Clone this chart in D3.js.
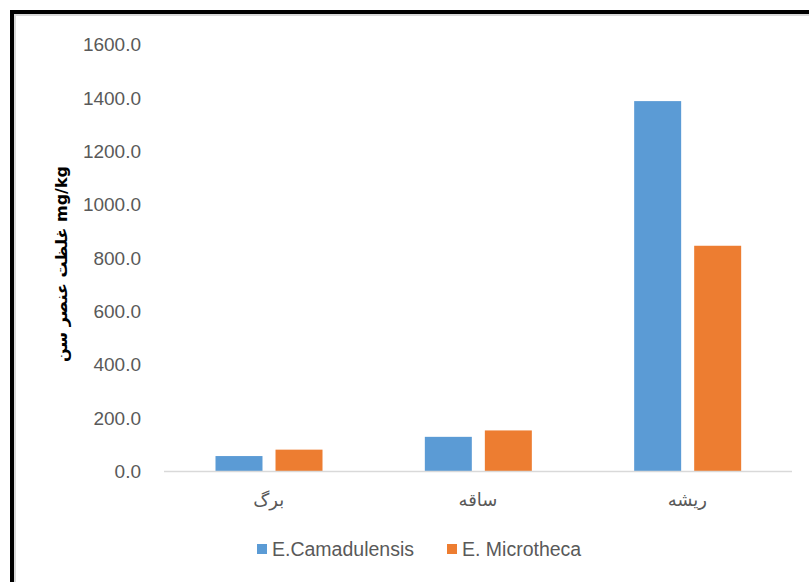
<!DOCTYPE html>
<html><head><meta charset="utf-8">
<script src="https://cdn.jsdelivr.net/npm/d3@7"></script>
<style>body{margin:0;background:#fff}svg{display:block}</style>
</head><body><svg id="c" width="809" height="582"></svg>
<script>
const categories = ["برگ", "ساقه", "ریشه"];
const seriesNames = ["E.Camadulensis", "E. Microtheca"];
const camadulensis = [56, 128, 1386];
const microtheca = [80, 152, 844];
const yTicks = [0, 200, 400, 600, 800, 1000, 1200, 1400, 1600];
const yTitle = "غلظت عنصر سن mg/kg";
const colors = ["#5B9BD5", "#ED7D31"];

const svg = d3.select("#c");
const font = "'Liberation Sans', Arial, 'DejaVu Sans', sans-serif";
// frame
svg.append("rect").attr("x",12).attr("y",12).attr("width",820).attr("height",600)
  .attr("fill","none").attr("stroke","#000").attr("stroke-width",4);
svg.append("path").attr("d","M15,590V15H809").attr("fill","none").attr("stroke","#d9d9d9").attr("stroke-width",2);

const x0 = d3.scaleBand().domain(categories).range([164, 792]);
const x1 = d3.scaleBand().domain(seriesNames).range([51.5, 158.5]).paddingInner(0.217);
const y = d3.scaleLinear().domain([0, 1600]).range([471, 44]);

const data = categories.map((c,i)=>({c, v:[camadulensis[i], microtheca[i]]}));

const g = svg.append("g");
data.forEach(d=>{
  seriesNames.forEach((s,j)=>{
    g.append("rect")
      .attr("x", x0(d.c)+x1(s)).attr("width", x1.bandwidth())
      .attr("y", y(d.v[j])).attr("height", y(0)-y(d.v[j]))
      .attr("fill", colors[j]);
  });
});

// baseline
svg.append("line").attr("x1",164).attr("x2",792).attr("y1",y(0)+0.5).attr("y2",y(0)+0.5)
  .attr("stroke","#d9d9d9").attr("stroke-width",1.5);

// y axis labels
const yAxis = d3.axisLeft(y).tickValues(yTicks).tickFormat(d3.format(".1f")).tickSize(0).tickPadding(0);
const ya = svg.append("g").attr("transform","translate(141,0)").call(yAxis);
ya.select(".domain").remove();
ya.selectAll("text").attr("font-family",font).attr("font-size",19).attr("fill","#595959").attr("dy","0.35em");

// x axis labels
const xAxis = d3.axisBottom(x0).tickSize(0).tickPadding(0);
const xa = svg.append("g").attr("transform","translate(0,506)").call(xAxis);
xa.select(".domain").remove();
xa.selectAll("text").attr("font-family","'DejaVu Sans', sans-serif").attr("font-size",18).attr("fill","#595959").attr("dy","0");

// y title
svg.append("text").attr("transform","translate(67,264) rotate(-90)")
  .attr("text-anchor","middle").attr("font-family","'DejaVu Sans', 'Liberation Sans', sans-serif")
  .attr("font-weight","bold").attr("font-size",16).attr("fill","#000").attr("direction","ltr")
  .text(yTitle);

// legend
const legX = [257, 447];
seriesNames.forEach((s,j)=>{
  svg.append("rect").attr("x",legX[j]).attr("y",544).attr("width",10).attr("height",10).attr("fill",colors[j]);
  svg.append("text").attr("x",legX[j]+15).attr("y",549).attr("dy","0.35em")
    .attr("font-family",font).attr("font-size",19.5).attr("fill","#595959").text(s);
});
</script></body></html>
